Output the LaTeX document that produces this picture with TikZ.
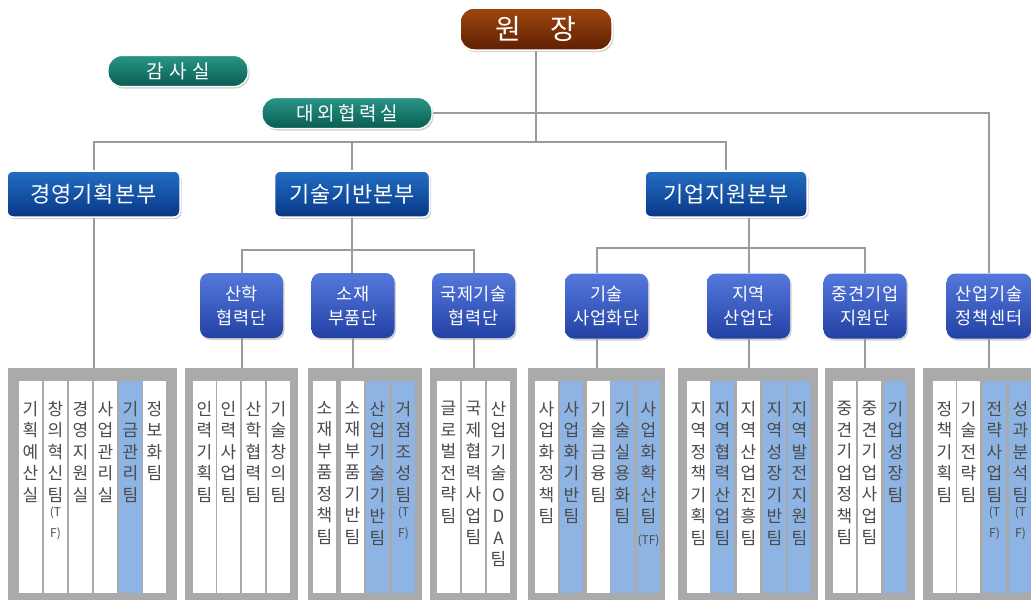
\documentclass[tikz,border=0pt]{standalone}
\usepackage{fontspec}
\setmainfont{Noto Sans CJK KR}
\newfontfamily\spaced{Noto Sans CJK KR}[LetterSpace=18]
\newfontfamily\snug{Noto Sans CJK KR}[LetterSpace=4]
\usepackage{xcolor}
\usetikzlibrary{positioning,shadows,calc}

\definecolor{chiefA}{RGB}{160,70,15}
\definecolor{chiefB}{RGB}{95,32,2}
\definecolor{officeA}{RGB}{40,150,135}
\definecolor{officeB}{RGB}{10,92,82}
\definecolor{hqA}{RGB}{35,110,195}
\definecolor{hqB}{RGB}{8,55,135}
\definecolor{unitA}{RGB}{85,120,220}
\definecolor{unitB}{RGB}{35,65,165}
\definecolor{framegray}{RGB}{170,170,170}
\definecolor{teamblue}{RGB}{142,180,227}
\definecolor{linegray}{RGB}{155,155,155}
\definecolor{teamtext}{RGB}{75,75,75}

\newcommand\tfline[1]{\par\fontsize{12}{15}\selectfont #1}

\begin{document}
\begin{tikzpicture}[
		x=1pt, y=-1pt,
		conn/.style={draw=linegray, line width=2pt},
		chief/.style={rounded corners=14pt, minimum width=152pt, minimum height=42pt,
			top color=chiefA, bottom color=chiefB, draw=white, line width=1.5pt,
			drop shadow={opacity=0.35, shadow xshift=1.5pt, shadow yshift=-2pt},
			text=white, font=\fontsize{28}{28}\selectfont},
		office/.style={rounded corners=14pt, minimum height=31pt,
			top color=officeA, bottom color=officeB, draw=white, line width=1.2pt,
			drop shadow={opacity=0.35, shadow xshift=1.5pt, shadow yshift=-2pt},
			text=white, font=\spaced\fontsize{19}{19}\selectfont},
		hq/.style={rounded corners=6pt, minimum height=46pt,
			top color=hqA, bottom color=hqB, draw=white, line width=1.5pt,
			drop shadow={opacity=0.35, shadow xshift=1.5pt, shadow yshift=-2pt},
			text=white, font=\snug\fontsize{22}{22}\selectfont},
		unitbox/.style={rounded corners=9pt, minimum width=83pt, minimum height=65pt,
			top color=unitA, bottom color=unitB,
			drop shadow={opacity=0.35, shadow xshift=1.5pt, shadow yshift=-2pt},
			text=white, align=center, font=\snug\fontsize{17.5}{24}\selectfont},
		teamframe/.style={anchor=north west, fill=framegray, minimum height=232pt, inner sep=0pt},
		team/.style={anchor=north, inner sep=0pt, text width=24pt, align=center,
			text=teamtext, font=\fontsize{17}{21.5}\selectfont},
	]
	\useasboundingbox (0,0) rectangle (1031,600);

	% top
	\node[chief] (won) at (536,29) {원\hspace{30pt}장};
	\node[office, minimum width=140pt] (gamsa) at (178,71) {감\hspace{0.3em}사\hspace{0.3em}실};
	\node[office, minimum width=170pt] (daeoe) at (347,113) {대외협력실};

	% headquarters
	\node[hq, minimum width=173pt] (hq1) at (93.5,194) {경영기획본부};
	\node[hq, minimum width=155pt] (hq2) at (352,194) {기술기반본부};
	\node[hq, minimum width=162pt] (hq3) at (726,194) {기업지원본부};

	% units
	\node[unitbox] (sanhak) at (241.5,305.5) {산학\\협력단};
	\node[unitbox] (sojae) at (353,305.5) {소재\\부품단};
	\node[unitbox] (gukje) at (473.5,305.5) {국제기술\\협력단};
	\node[unitbox] (gisul) at (606.5,306) {기술\\사업화단};
	\node[unitbox] (jiyeok) at (748.5,306) {지역\\산업단};
	\node[unitbox] (junggyeon) at (865,306) {중견기업\\지원단};
	\node[unitbox, minimum width=85pt] (policy) at (989,306) {산업기술\\정책센터};

	% team frames
	\node[teamframe, minimum width=169pt] (f1) at (8,368) {};
	\node[teamframe, minimum width=113pt] (f2) at (185,368) {};
	\node[teamframe, minimum width=114pt] (f3) at (308,368) {};
	\node[teamframe, minimum width=87pt] (f4) at (430,368) {};
	\node[teamframe, minimum width=137pt] (f5) at (528,368) {};
	\node[teamframe, minimum width=140pt] (f6) at (678,368) {};
	\node[teamframe, minimum width=90pt] (f7) at (825,368) {};
	\node[teamframe, minimum width=108pt] (f8) at (923,368) {};

	\foreach \x/\c/\t [count=\i] in {
			19/white/{기\\획\\예\\산\\실},
			44/white/{창\\의\\혁\\신\\팀\tfline{(T\\F)}},
			69/white/{경\\영\\지\\원\\실},
			94/white/{사\\업\\관\\리\\실},
			119/teamblue/{기\\금\\관\\리\\팀},
			143/white/{정\\보\\화\\팀},
			193/white/{인\\력\\기\\획\\팀},
			217/white/{인\\력\\사\\업\\팀},
			242/white/{산\\학\\협\\력\\팀},
			267/white/{기\\술\\창\\의\\팀},
			313/white/{소\\재\\부\\품\\정\\책\\팀},
			341/white/{소\\재\\부\\품\\기\\반\\팀},
			366/teamblue/{산\\업\\기\\술\\기\\반\\팀},
			392/teamblue/{거\\점\\조\\성\\팀\tfline{(T\\F)}},
			437/white/{글\\로\\벌\\전\\략\\팀},
			462/white/{국\\제\\협\\력\\사\\업\\팀},
			487/white/{산\\업\\기\\술\\O\\D\\A\\팀},
			535/white/{사\\업\\화\\정\\책\\팀},
			560/teamblue/{사\\업\\화\\기\\반\\팀},
			587/white/{기\\술\\금\\융\\팀},
			611/teamblue/{기\\술\\실\\용\\화\\팀},
			637/teamblue/{사\\업\\화\\확\\산\\팀\tfline{(TF)}},
			687/white/{지\\역\\정\\책\\기\\획\\팀},
			711/teamblue/{지\\역\\협\\력\\산\\업\\팀},
			737/white/{지\\역\\산\\업\\진\\흥\\팀},
			763/teamblue/{지\\역\\성\\장\\기\\반\\팀},
			788/teamblue/{지\\역\\발\\전\\지\\원\\팀},
			833/white/{중\\견\\기\\업\\정\\책\\팀},
			858/white/{중\\견\\기\\업\\사\\업\\팀},
			884/teamblue/{기\\업\\성\\장\\팀},
			933/white/{정\\책\\기\\획\\팀},
			957/white/{기\\술\\전\\략\\팀},
			983/teamblue/{전\\략\\사\\업\\팀\tfline{(T\\F)}},
			1009/teamblue/{성\\과\\분\\석\\팀\tfline{(T\\F)}}}
		{
			\fill[\c] (\x,381) rectangle ++(23,212);
			\node[team] (t\i) at (\x+11.5,401) {\t};
		}

	% connectors
	\coordinate (bus) at (536,142);
	\coordinate (midbus) at (352,250);
	\coordinate (rightbus) at (748.5,248);
	\draw[conn] (won.south) -- (bus);
	\draw[conn] (hq1.north) |- (bus) -| (hq3.north);
	\draw[conn] (hq2.north) -- (hq2.north |- bus);
	\draw[conn] (daeoe.east) -| (policy.north);
	\draw[conn] (hq1.south) -- (hq1.south |- f1.north);

	\draw[conn] (hq2.south) -- (hq2.south |- sojae.north);
	\draw[conn] (sanhak.north) |- (midbus) -| (gukje.north);
	\draw[conn] (sanhak.south) -- (sanhak.south |- f2.north);
	\draw[conn] (sojae.south) -- (sojae.south |- f3.north);
	\draw[conn] (gukje.south) -- (gukje.south |- f4.north);

	\draw[conn] (hq3.south -| jiyeok.north) -- (jiyeok.north);
	\draw[conn] (f5.north |- gisul.north) |- (rightbus) -| (junggyeon.north);
	\draw[conn] (f5.north |- gisul.south) -- (f5.north);
	\draw[conn] (jiyeok.south) -- (jiyeok.south |- f6.north);
	\draw[conn] (junggyeon.south) -- (junggyeon.south |- f7.north);
	\draw[conn] (policy.south) -- (policy.south |- f8.north);

\end{tikzpicture}
\end{document}
